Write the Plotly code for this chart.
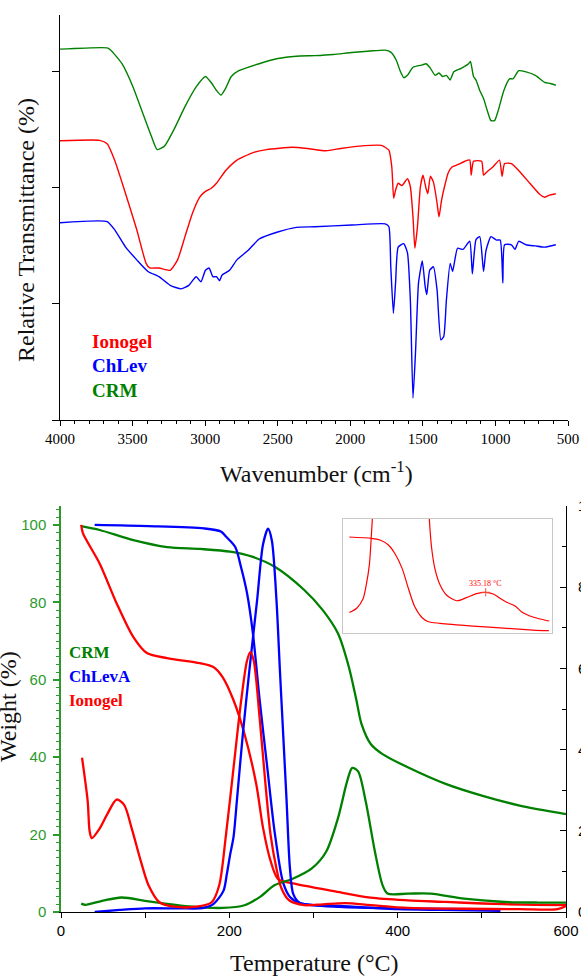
import plotly.graph_objects as go

# ---------------- FTIR (top) ----------------
crm_wn = [4000, 3675, 3650, 3573, 3497, 3420, 3369, 3331, 3280, 3216, 3139, 3062, 2998, 2960, 2922, 2891,
          2858, 2820, 2768, 2628, 2500, 2372, 2245, 2117, 1989, 1861, 1759, 1721, 1683, 1657, 1632, 1606,
          1568, 1504, 1478, 1453, 1415, 1389, 1364, 1338, 1312, 1287, 1236, 1185, 1172, 1151, 1134, 1108,
          1082, 1057, 1031, 1006, 980, 942, 903, 878, 840, 789, 725, 661, 622, 584]
crm_tr = [3.196, 3.207, 3.187, 3.07, 2.87, 2.61, 2.44, 2.33, 2.36, 2.50, 2.70, 2.87, 2.96, 2.91, 2.84, 2.80,
          2.86, 2.96, 3.01, 3.07, 3.115, 3.135, 3.14, 3.15, 3.167, 3.18, 3.187, 3.17, 3.10, 3.01, 2.95, 2.97,
          3.04, 3.06, 3.07, 3.04, 2.97, 2.99, 2.96, 2.97, 2.93, 3.0, 3.03, 3.07, 3.09, 2.96, 2.93, 2.84,
          2.77, 2.67, 2.58, 2.58, 2.67, 2.84, 2.94, 2.94, 3.01, 3.0, 2.97, 2.91, 2.90, 2.885]

iono_wn = [4000, 3727, 3675, 3624, 3548, 3471, 3407, 3382, 3318, 3241, 3190, 3139, 3088, 3037, 2998, 2960,
           2922, 2858, 2781, 2679, 2577, 2398, 2296, 2168, 2066, 1938, 1785, 1734, 1714, 1701, 1688, 1670,
           1644, 1606, 1586, 1568, 1555, 1537, 1517, 1499, 1478, 1466, 1448, 1427, 1402, 1389, 1371, 1351,
           1325, 1299, 1261, 1210, 1177, 1167, 1151, 1095, 1082, 1057, 1018, 972, 954, 937, 890, 840,
           763, 699, 661, 622, 584]
iono_tr = [2.406, 2.41, 2.38, 2.24, 1.95, 1.64, 1.35, 1.31, 1.31, 1.29, 1.38, 1.58, 1.78, 1.92, 1.97, 1.995,
           2.04, 2.15, 2.24, 2.30, 2.33, 2.35, 2.34, 2.32, 2.34, 2.36, 2.366, 2.325, 2.18, 1.91, 1.98, 2.04,
           2.02, 2.08, 2.01, 1.75, 1.48, 1.67, 2.01, 2.11, 1.995, 1.95, 2.10, 2.05, 1.87, 1.75, 1.895, 2.01,
           2.13, 2.18, 2.2, 2.23, 2.24, 2.11, 2.23, 2.23, 2.11, 2.14, 2.18, 2.24, 2.10, 2.21, 2.21, 2.15,
           2.04, 1.95, 1.92, 1.94, 1.95]

chlev_wn = [4000, 3675, 3624, 3548, 3471, 3394, 3318, 3241, 3165, 3113, 3062, 3029, 2998, 2973, 2947, 2922,
            2901, 2883, 2832, 2781, 2705, 2628, 2500, 2372, 2245, 1989, 1759, 1734, 1721, 1703, 1688, 1670,
            1632, 1606, 1586, 1568, 1550, 1530, 1504, 1484, 1473, 1453, 1427, 1402, 1376, 1356, 1338, 1312,
            1295, 1261, 1223, 1177, 1159, 1134, 1108, 1082, 1065, 1031, 993, 967, 949, 937, 890, 865,
            840, 789, 725, 661, 584]
chlev_tr = [1.70, 1.71, 1.64, 1.49, 1.38, 1.28, 1.235, 1.16, 1.13, 1.16, 1.235, 1.19, 1.29, 1.31, 1.235, 1.235,
            1.20, 1.25, 1.29, 1.38, 1.46, 1.56, 1.62, 1.66, 1.665, 1.68, 1.69, 1.665, 1.32, 0.92, 1.18, 1.49,
            1.52, 1.44, 1.03, 0.19, 0.60, 1.18, 1.37, 1.15, 1.08, 1.29, 1.32, 1.12, 0.69, 0.72, 1.03, 1.35,
            1.28, 1.48, 1.47, 1.54, 1.26, 1.555, 1.58, 1.28, 1.46, 1.58, 1.55, 1.55, 1.18, 1.51, 1.51, 1.47,
            1.54, 1.51, 1.50, 1.49, 1.51]

ftir_xticks = [4000, 3500, 3000, 2500, 2000, 1500, 1000, 500]

# ---------------- TGA / DTG (bottom) ----------------
crm_T = [24, 46, 86, 126, 165, 201, 227, 254, 289, 311, 329, 342, 351, 357, 368, 382, 412, 457, 501, 545, 600]
crm_W = [99.7, 98.7, 96.1, 94.3, 93.8, 93.1, 91.8, 89.2, 83.2, 78, 72, 63.3, 54.7, 48.6, 43.4, 40.8, 37.4,
         33.1, 30, 27.5, 25.3]
crm_dT = [24, 29, 50, 72, 104, 148, 192, 218, 236, 254, 276, 298, 315, 329, 340, 346, 353, 362, 373, 382,
          388, 412, 439, 479, 523, 567, 600]
crm_D = [0.205, 0.176, 0.28, 0.357, 0.262, 0.147, 0.10, 0.166, 0.367, 0.663, 0.826, 1.074, 1.485, 2.307,
         3.224, 3.55, 3.463, 2.727, 1.485, 0.663, 0.453, 0.453, 0.453, 0.329, 0.252, 0.233, 0.233]

chl_T = [40, 104, 170, 190, 196, 207, 214, 221, 228, 236, 245, 254, 264, 272, 284, 331, 400, 460, 522]
chl_W = [100, 99.7, 99.1, 98.3, 97, 94.3, 89, 82.4, 72, 54.8, 37.5, 20.4, 7.5, 3.9, 2.3, 1.3, 0.9, 0.8, 0.7]
chl_dT = [40, 70, 100, 140, 170, 181, 193, 197, 201, 205, 209, 216, 224, 233, 240, 246, 250.5, 256, 260,
          264, 268, 272, 276, 284, 300, 331, 400, 450, 522]
chl_D = [0.0, 0.05, 0.09, 0.09, 0.10, 0.195, 0.52, 0.93, 1.42, 1.85, 2.75, 4.37, 5.99, 7.68, 9.05, 9.44,
         9.15, 7.68, 5.99, 4.37, 2.75, 1.08, 0.44, 0.22, 0.17, 0.15, 0.07, 0.05, 0.03]

ion_T = [24, 26, 46, 66, 86, 102, 126, 165, 181, 192, 205, 218, 232, 240, 249, 258, 280, 324, 368, 412,
         457, 501, 550, 600]
ion_W = [100, 97.9, 90, 79.8, 71, 66.9, 65.6, 64.3, 63.3, 60.7, 54.7, 46, 33, 21.8, 13.2, 8.5, 7.2, 5.4,
         3.7, 3.0, 2.6, 2.2, 1.9, 1.8]
ion_dT = [25, 31.7, 34, 36.5, 46, 55, 66, 75, 84, 95, 104, 117, 135, 161, 179, 188, 196, 205, 214, 221,
          225, 229, 236, 243, 249, 256, 262, 271, 289, 311, 338, 368, 412, 479, 545, 590, 600]
ion_D = [3.80, 2.73, 1.99, 1.82, 2.06, 2.41, 2.77, 2.64, 2.06, 1.24, 0.66, 0.24, 0.13, 0.13, 0.24, 0.66,
         1.90, 3.55, 5.20, 6.19, 6.40, 6.19, 4.78, 3.13, 1.90, 1.07, 0.58, 0.29, 0.17, 0.19, 0.22, 0.17,
         0.10, 0.08, 0.07, 0.07, 0.15]

# inset (zoom of Ionogel curves)
ins_wT = [206, 227, 235, 243, 249, 256, 262, 268, 275, 281, 292, 323, 355, 380, 395]
ins_w = [0.842, 0.83, 0.816, 0.772, 0.70, 0.567, 0.39, 0.23, 0.134, 0.099, 0.085, 0.061, 0.041, 0.026, 0.02]
ins_dT = [206, 213, 219, 222, 225, 226.5, 227.8, 229, 231, 279, 281, 281.8, 284, 287, 292, 298, 307.7,
          317, 326.6, 335.2, 342.4, 348.7, 355, 363, 369, 377, 386.6, 395.4]
ins_d = [0.18, 0.217, 0.30, 0.42, 0.60, 0.80, 1.0, 1.2, 1.5, 1.5, 1.2, 1.0, 0.743, 0.567, 0.42, 0.333,
         0.283, 0.31, 0.345, 0.357, 0.342, 0.304, 0.269, 0.237, 0.187, 0.149, 0.123, 0.105]
peak_T = 335.18
peak_d = 0.357

RED = "#ff0000"
BLUE = "#0000ff"
GREEN = "#008000"
LGREEN = "#2b9a2b"
SERIF = "Liberation Serif"
SANS = "Liberation Sans"

fig = go.Figure()

# FTIR traces
for xs, ys, c in [(crm_wn, crm_tr, GREEN), (iono_wn, iono_tr, RED), (chlev_wn, chlev_tr, BLUE)]:
    fig.add_trace(go.Scatter(x=xs, y=ys, mode="lines", xaxis="x", yaxis="y",
                             line=dict(color=c, width=1.4, shape="spline", smoothing=0.5),
                             showlegend=False, hoverinfo="skip"))

# TGA traces (weight, left axis)
for xs, ys, c in [(crm_T, crm_W, GREEN), (chl_T, chl_W, BLUE), (ion_T, ion_W, RED)]:
    fig.add_trace(go.Scatter(x=xs, y=ys, mode="lines", xaxis="x2", yaxis="y2",
                             line=dict(color=c, width=2.3, shape="spline", smoothing=0.8),
                             showlegend=False, hoverinfo="skip"))
# DTG traces (right axis)
for xs, ys, c in [(crm_dT, crm_D, GREEN), (chl_dT, chl_D, BLUE), (ion_dT, ion_D, RED)]:
    fig.add_trace(go.Scatter(x=xs, y=ys, mode="lines", xaxis="x2", yaxis="y3",
                             line=dict(color=c, width=2.3, shape="spline", smoothing=0.8),
                             showlegend=False, hoverinfo="skip"))

# inset traces
fig.add_trace(go.Scatter(x=ins_wT, y=ins_w, mode="lines", xaxis="x4", yaxis="y4",
                         line=dict(color=RED, width=1.2, shape="spline", smoothing=0.8),
                         showlegend=False, hoverinfo="skip"))
fig.add_trace(go.Scatter(x=ins_dT, y=ins_d, mode="lines", xaxis="x4", yaxis="y4",
                         line=dict(color=RED, width=1.2, shape="spline", smoothing=0.8),
                         showlegend=False, hoverinfo="skip"))
fig.add_trace(go.Scatter(x=[peak_T], y=[peak_d], mode="markers", xaxis="x4", yaxis="y4",
                         marker=dict(symbol="cross-thin-open", size=6, line=dict(color=RED, width=1)),
                         showlegend=False, hoverinfo="skip"))

W, H = 581, 976


def px(v):
    return v / W


def py(v):
    return (H - v) / H


fig.update_layout(
    width=W, height=H,
    margin=dict(l=0, r=0, t=0, b=0, pad=0, autoexpand=False),
    paper_bgcolor="white", plot_bgcolor="white",
    xaxis=dict(domain=[px(60), px(568)], range=[4000, 500], anchor="y", automargin=False,
               showgrid=False, zeroline=False, showline=True, linecolor="black", linewidth=1,
               tickmode="array", tickvals=ftir_xticks, ticks="outside", ticklen=5, tickcolor="black",
               minor=dict(dtick=100, ticks="outside", ticklen=3, tickcolor="black"),
               tickfont=dict(family=SERIF, size=15, color="black")),
    yaxis=dict(domain=[py(420), py(15)], range=[0, 3.49], anchor="x", automargin=False,
               showgrid=False, zeroline=False, showline=True, linecolor="black", linewidth=1,
               tickmode="array", tickvals=[0, 1, 2, 3], ticks="outside", ticklen=7, tickcolor="black",
               showticklabels=False),
    xaxis2=dict(domain=[px(61), px(566)], range=[0, 600], anchor="y2", automargin=False,
                showgrid=False, zeroline=False, showline=True, linecolor="black", linewidth=1,
                tickmode="array", tickvals=[0, 200, 400, 600], ticks="outside", ticklen=5, tickcolor="black",
                minor=dict(dtick=100, ticks="outside", ticklen=5, tickcolor="black"),
                tickfont=dict(family=SANS, size=15, color="black")),
    yaxis2=dict(domain=[py(912), py(506)], range=[0, 104.9], anchor="x2", automargin=False,
                showgrid=False, zeroline=False, showline=True, linecolor=LGREEN, linewidth=1.5,
                tickmode="array", tickvals=[0, 20, 40, 60, 80, 100], ticks="outside", ticklen=6,
                tickcolor=LGREEN, tickwidth=1.5,
                minor=dict(dtick=2, ticks="outside", ticklen=3, tickcolor=LGREEN, tickwidth=1.2),
                ticklabelstandoff=4,
                tickfont=dict(family=SANS, size=15, color=LGREEN)),
    yaxis3=dict(range=[0, 10], overlaying="y2", side="right", anchor="x2", automargin=False,
                showgrid=False, zeroline=False, showline=True, linecolor="black", linewidth=1,
                tickmode="array", tickvals=[0, 2, 4, 6, 8, 10], ticks="inside", ticklen=6, tickcolor="black",
                minor=dict(dtick=1, ticks="inside", ticklen=4, tickcolor="black"),
                ticklabelstandoff=8,
                tickfont=dict(family=SANS, size=15, color="black")),
    xaxis4=dict(domain=[px(343), px(552)], range=[200, 398], anchor="y4", automargin=False,
                showgrid=False, zeroline=False, showline=True, mirror=True, linecolor="#c8c8c8",
                linewidth=1, ticks="", showticklabels=False),
    yaxis4=dict(domain=[py(633), py(519)], range=[0, 1], anchor="x4", automargin=False,
                showgrid=False, zeroline=False, showline=True, mirror=True, linecolor="#c8c8c8",
                linewidth=1, ticks="", showticklabels=False),
)

ann = []
# axis titles
ann.append(dict(text="Relative Transmittance (%)", x=px(26), y=py(230), textangle=-90,
                font=dict(family=SERIF, size=24, color="#111")))
ann.append(dict(text="Wavenumber (cm<sup>-1</sup>)", x=px(316), y=py(472),
                font=dict(family=SERIF, size=24, color="#111")))
ann.append(dict(text="Temperature (°C)", x=px(314), y=py(963),
                font=dict(family=SERIF, size=24, color="#111")))
ann.append(dict(text="Weight (%)", x=px(8), y=py(707), textangle=-90,
                font=dict(family=SERIF, size=24, color="#111")))
# legends (text)
for t, c, yy in [("Ionogel", RED, 341), ("ChLev", BLUE, 365), ("CRM", GREEN, 390)]:
    ann.append(dict(text="<b>%s</b>" % t, x=px(90), y=py(yy), xanchor="left",
                    font=dict(family=SERIF, size=19, color=c)))
for t, c, yy in [("CRM", GREEN, 652), ("ChLevA", BLUE, 676), ("Ionogel", RED, 700)]:
    ann.append(dict(text="<b>%s</b>" % t, x=px(67), y=py(yy), xanchor="left",
                    font=dict(family=SERIF, size=17, color=c)))
for a in ann:
    a.update(xref="paper", yref="paper", showarrow=False)
    a.setdefault("xanchor", "center")
    a.setdefault("yanchor", "middle")
# inset peak label
ann.append(dict(text="335.18 °C", x=peak_T, y=0.43, xref="x4", yref="y4", showarrow=False,
                font=dict(family=SERIF, size=8, color=RED), xanchor="center", yanchor="middle"))
fig.update_layout(annotations=ann)

fig.write_html("out.html", config={"displayModeBar": False},
               post_script="document.body.style.margin='0';document.body.style.padding='0';"
                           "document.documentElement.style.overflow='hidden';")
